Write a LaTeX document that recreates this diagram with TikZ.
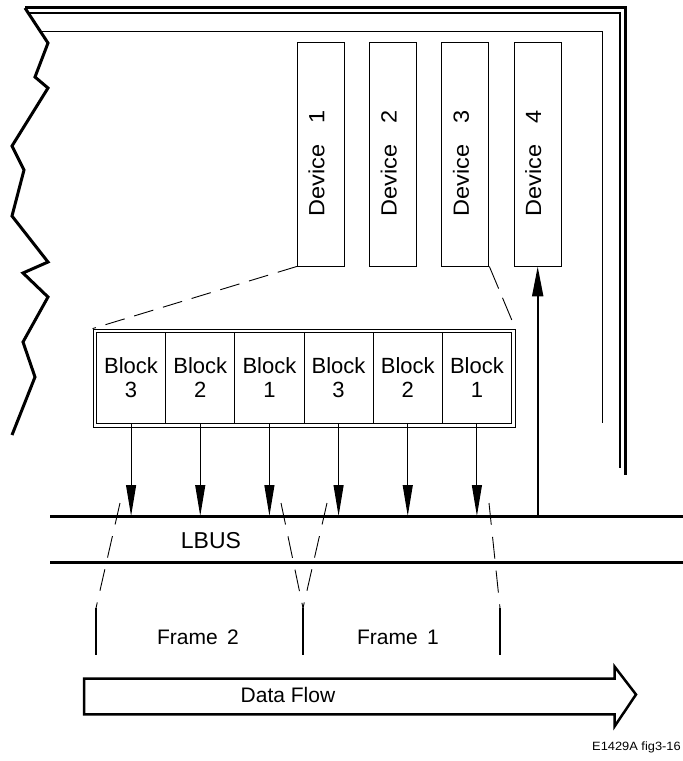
\documentclass[tikz,border=0pt]{standalone}
\usepackage{fontspec}
\setmainfont{Liberation Sans}
\usetikzlibrary{arrows.meta}
\begin{document}
\begin{tikzpicture}[x=1pt,y=-1pt,
  devbox/.style={draw, line width=0.9pt, minimum width=47pt, minimum height=224pt, inner sep=0pt},
  devlabel/.style={rotate=90, anchor=base, inner sep=0pt, font=\fontsize{22}{26}\selectfont},
  rowbox/.style={draw, line width=0.8pt, minimum width=422pt, minimum height=98pt, inner sep=0pt},
  cellbox/.style={draw, line width=0.9pt, minimum width=69.17pt, minimum height=91pt, inner sep=0pt,
    align=center, font=\fontsize{22}{24}\selectfont},
  thickline/.style={line width=3pt},
  thinline/.style={line width=1.1pt},
  markline/.style={line width=2.5pt},
  barrow/.style={line width=1pt, -{Triangle[length=31pt,width=10pt]}},
  uparrow/.style={line width=2pt, -{Triangle[length=30pt,width=11pt]}},
  longdash/.style={line width=0.9pt, dash pattern=on 22pt off 12pt},
  updash/.style={line width=0.9pt, dash pattern=on 20pt off 10pt},
  rdash/.style={line width=0.9pt, dash pattern=on 24pt off 10pt},
  txt/.style={inner sep=0pt, font=\fontsize{21}{24}\selectfont},
]
\useasboundingbox (0,0) rectangle (683,761);

% torn left edge
\draw[thickline, line join=miter] (25,8) -- (48,43) -- (35,77) -- (48,88) -- (12,146) -- (24,170)
  -- (12,216) -- (48,262) -- (23,273) -- (48,297) -- (23,342) -- (35,377) -- (12,435);

% enclosure lines
\draw[thickline, line join=miter] (25,7) -- (625,7) -- (625,475);
\draw[thinline, line join=miter] (28.3,13) -- (620,13) -- (620,468);
\draw[line width=1pt, line join=miter] (40,31) -- (602,31) -- (602,423);

% devices
\node[devbox] (d1) at (320.8,154) {};
\node[devbox] (d2) at (393.1,154) {};
\node[devbox] (d3) at (465.4,154) {};
\node[devbox] (d4) at (537.7,154) {};
\node[devlabel] (l1) at (324.3,163.5) {\scalebox{1.07}[1]{Device\hspace{0.9em}1}};
\node[devlabel] (l2) at (396.6,163.5) {\scalebox{1.07}[1]{Device\hspace{0.9em}2}};
\node[devlabel] (l3) at (468.9,163.5) {\scalebox{1.07}[1]{Device\hspace{0.9em}3}};
\node[devlabel] (l4) at (541.2,163.5) {\scalebox{1.07}[1]{Device\hspace{0.9em}4}};

% block row
\node[rowbox] (row) at (304,378) {};
\node[cellbox] (b1) at (131.08,378) {Block\\3};
\node[cellbox] (b2) at (200.25,378) {Block\\2};
\node[cellbox] (b3) at (269.42,378) {Block\\1};
\node[cellbox] (b4) at (338.58,378) {Block\\3};
\node[cellbox] (b5) at (407.75,378) {Block\\2};
\node[cellbox] (b6) at (476.92,378) {Block\\1};

% zoom lines from devices to block row
\draw[updash] (d1.south west) -- (row.north west);
\draw[rdash] (d3.south east) -- (row.north east);

% LBUS
\coordinate (busAL) at (50,516);
\coordinate (busAR) at (683,516);
\coordinate (busBL) at (50,562);
\coordinate (busBR) at (683,562);
\draw[thickline] (busAL) -- (busAR);
\draw[thickline] (busBL) -- (busBR);
\node[txt, font=\fontsize{23}{26}\selectfont] (lbus) at (211,541) {LBUS};

% block arrows onto bus
\foreach \b in {b1,b2,b3,b4,b5,b6}{
  \draw[barrow] (\b.south) -- (\b.south |- busAL);
}
% bus to device 4
\draw[uparrow] (d4.south |- busAL) -- (d4.south);

% frame markers
\coordinate (f1t) at (96,608);  \coordinate (f1b) at (96,655);
\coordinate (f2t) at (303,608); \coordinate (f2b) at (303,655);
\coordinate (f3t) at (500,608); \coordinate (f3b) at (500,655);
\draw[markline] (f1t) -- (f1b);
\draw[markline] (f2t) -- (f2b);
\draw[markline] (f3t) -- (f3b);

\coordinate (s1) at (120,503);
\coordinate (s2) at (281,503);
\coordinate (s3) at (327,503);
\coordinate (s4) at (489,503);
\draw[longdash] (s1) -- (f1t);
\draw[longdash] (s2) -- (f2t);
\draw[longdash] (s3) -- (f2t);
\draw[longdash] (s4) -- (f3t);

\node[txt] (fr2) at (198,637) {Frame\hspace{0.45em}2};
\node[txt] (fr1) at (398,637) {Frame\hspace{0.45em}1};

% data flow arrow
\draw[line width=2.5pt, line join=miter] (84,678.5) -- (614.5,678.5) -- (614.5,666.5) -- (636,694.5)
  -- (614.5,726.5) -- (614.5,714.3) -- (84,714.3) -- cycle;
\node[txt] (df) at (288,695) {Data Flow};

% figure id
\node[anchor=base west, inner sep=0pt, font=\fontsize{12}{14}\selectfont] (fid) at (592,750.5)
  {\scalebox{1.07}[1]{E1429A fig3-16}};
\end{tikzpicture}
\end{document}
